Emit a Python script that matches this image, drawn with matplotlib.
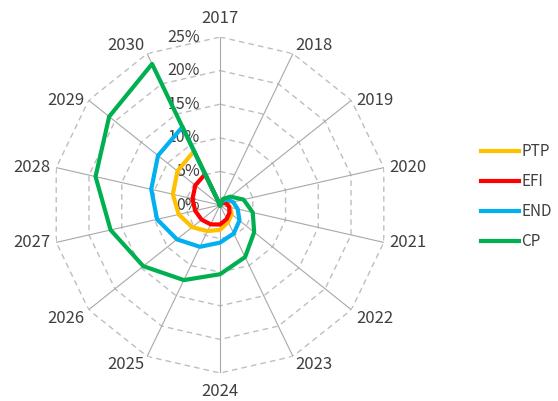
import matplotlib
matplotlib.use("Agg")
import matplotlib.pyplot as plt
import numpy as np

plt.rcParams['font.family'] = ['Noto Sans CJK SC', 'DejaVu Sans']

years = ['2017', '2018', '2019', '2020', '2021', '2022', '2023',
         '2024', '2025', '2026', '2027', '2028', '2029', '2030']
ptp = [0, 0.3, 0.6, 1.1, 1.6, 2.2, 2.8, 3.7, 4.3, 5.3, 6.3, 7.2, 8.1, 8.9]
efi = [0, 0.3, 0.6, 1.0, 1.4, 1.8, 2.3, 2.9, 3.2, 3.5, 3.8, 4.2, 4.7, 5.1]
end = [0, 0.6, 1.3, 2.0, 2.7, 3.7, 4.7, 5.6, 6.9, 8.2, 9.6, 10.5, 11.8, 12.9]
cp = [0, 1.0, 2.0, 3.6, 5.0, 6.5, 8.6, 10.3, 12.4, 14.6, 16.7, 19.0, 21.1, 23.3]
rings = [0, 5, 10, 15, 20, 25]
ring_labels = ['0%', '5%', '10%', '15%', '20%', '25%']

series = [('PTP', ptp, '#FFC000'), ('EFI', efi, '#FF0000'),
          ('END', end, '#00B0F0'), ('CP', cp, '#00B050')]

n = len(years)
theta = np.arange(n) * 2 * np.pi / n
th_closed = np.append(theta, theta[0])

fig = plt.figure(figsize=(5.58, 4.01), dpi=100)
ax = fig.add_axes([0.0932, 0.0698, 0.6022, 0.8379], projection='polar')
ax.set_theta_offset(np.pi / 2)
ax.set_theta_direction(-1)
ax.set_ylim(0, 25)
ax.set_xticks([])
ax.set_yticks([])
ax.grid(False)
ax.spines['polar'].set_visible(False)

# polygon grid + spokes
for r in rings[1:]:
    ax.plot(th_closed, [r] * (n + 1), color='#BEBEBE', lw=1.0,
            ls=(0, (4, 3)), zorder=1)
for t in theta:
    ax.plot([t, t], [0, 25], color='#A8A8A8', lw=0.8, zorder=1)

# radial labels
for r, lab in zip(rings, ring_labels):
    ax.annotate(lab, xy=(0, r), xytext=(-20, 0), textcoords='offset pixels',
                ha='right', va='center', fontsize=11.5, color='#404040')

# category labels
for t, lab in zip(theta, years):
    s, c = np.sin(t), np.cos(t)
    ha = 'left' if s > 0.05 else ('right' if s < -0.05 else 'center')
    va = 'bottom' if c > 0.7 else ('top' if c < -0.5 else 'center')
    dy = 10 * np.sign(c) if abs(c) > 0.95 else 0
    ax.annotate(lab, xy=(t, 25), xytext=(6 * s, dy), textcoords='offset pixels',
                ha=ha, va=va, fontsize=12, color='#404040')

for name, vals, col in series:
    ax.plot(th_closed, np.append(vals, vals[0]), color=col, lw=3,
            solid_joinstyle='round', label=name, zorder=3)

fig.legend(loc='center left', bbox_to_anchor=(0.862, 0.51), frameon=False,
           fontsize=11, handlelength=2.5, handletextpad=0.15, labelspacing=0.85,
           borderpad=0, borderaxespad=0, labelcolor='#404040')

fig.savefig('out.png', dpi=100)
